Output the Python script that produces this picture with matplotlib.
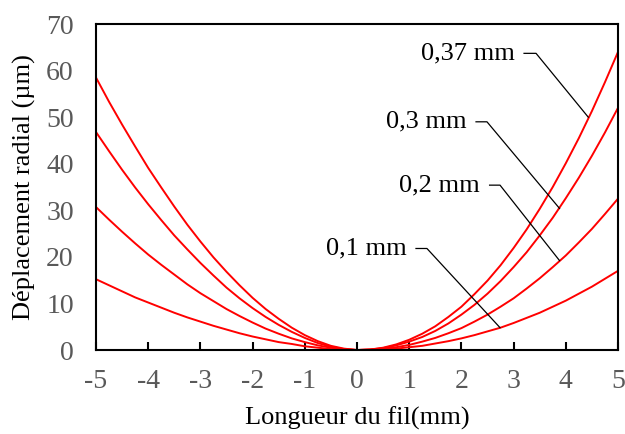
import numpy as np
import matplotlib
matplotlib.use("Agg")
import matplotlib.pyplot as plt

plt.rcParams['font.family'] = ['Liberation Serif', 'DejaVu Serif']
plt.rcParams['axes.unicode_minus'] = False

# position along the wire (mm), every 0.25 mm
x = np.linspace(-5, 5, 41)

# radial displacement (um) for each wire diameter
d037 = [58.5, 53.3, 48.4, 43.7, 39.1, 34.9, 30.8, 26.9, 23.3, 19.9, 16.8,
        13.9, 11.2, 8.8, 6.7, 4.8, 3.2, 1.9, 0.9, 0.3, 0,
        0.1, 0.5, 1.2, 2.2, 3.5, 5.1, 7.1, 9.3, 12.0, 14.9,
        18.2, 21.9, 25.9, 30.3, 35.0, 40.1, 45.5, 51.3, 57.5, 64.0]
d030 = [46.8, 42.7, 38.7, 34.9, 31.3, 27.9, 24.6, 21.6, 18.7, 16.0, 13.4,
        11.1, 9.0, 7.1, 5.4, 3.9, 2.6, 1.5, 0.7, 0.2, 0,
        0.1, 0.4, 1.0, 1.8, 2.8, 4.1, 5.7, 7.6, 9.7, 12.1,
        14.8, 17.8, 21.0, 24.6, 28.4, 32.6, 37.0, 41.7, 46.7, 52.0]
d020 = [30.7, 28.0, 25.4, 22.9, 20.5, 18.3, 16.2, 14.1, 12.2, 10.5, 8.8,
        7.3, 5.9, 4.6, 3.5, 2.5, 1.7, 1.0, 0.5, 0.1, 0,
        0.1, 0.3, 0.6, 1.1, 1.8, 2.6, 3.6, 4.7, 6.1, 7.6,
        9.3, 11.1, 13.2, 15.4, 17.8, 20.3, 23.1, 26.0, 29.2, 32.5]
d010 = [15.2, 13.9, 12.6, 11.3, 10.2, 9.1, 8.0, 7.0, 6.1, 5.2, 4.4,
        3.6, 2.9, 2.3, 1.7, 1.3, 0.8, 0.5, 0.2, 0.1, 0,
        0.0, 0.1, 0.3, 0.6, 0.9, 1.4, 1.9, 2.5, 3.2, 4.0,
        4.8, 5.8, 6.9, 8.0, 9.3, 10.6, 12.1, 13.6, 15.3, 17.0]

series = [d037, d030, d020, d010]
labels = ['0,37 mm', '0,3 mm', '0,2 mm', '0,1 mm']
# leader lines: (text end x, elbow x, y level, point on curve x, y)
leaders = [(3.20, 3.43, 63.7, 4.43, 50.0),
           (2.28, 2.49, 49.0, 3.88, 30.4),
           (2.54, 2.74, 35.4, 3.88, 19.2),
           (1.13, 1.34, 21.8, 2.74, 4.8)]

fig = plt.figure(figsize=(6.25, 4.34), dpi=100)
ax = fig.add_axes([0.1536, 0.1935, 0.8352, 0.7512])

for ys in series:
    ax.plot(x, ys, color='#ff0000', lw=1.4)

for lab, (x0, x1, yl, xe, ye) in zip(labels, leaders):
    ax.plot([x0, x1, xe], [yl, yl, ye], color='black', lw=0.9)
    ax.text(x0 - 0.18, yl, lab, ha='right', va='center', fontsize=19)

ax.set_xlim(-5, 5)
ax.set_ylim(0, 70)
ax.set_xticks(range(-5, 6))
ax.set_yticks(range(0, 71, 10))
ax.tick_params(axis='x', direction='in', length=6, width=1.5, pad=14,
               labelsize=20, labelcolor='#595959')
ax.tick_params(axis='y', length=0, pad=16, labelsize=20, labelcolor='#595959')
for s in ax.spines.values():
    s.set_linewidth(1.5)

ax.set_xlabel('Longueur du fil(mm)', fontsize=19, labelpad=9)
ax.set_ylabel('Déplacement radial (µm)', fontsize=19, labelpad=7)

fig.savefig('out.png', dpi=100)
